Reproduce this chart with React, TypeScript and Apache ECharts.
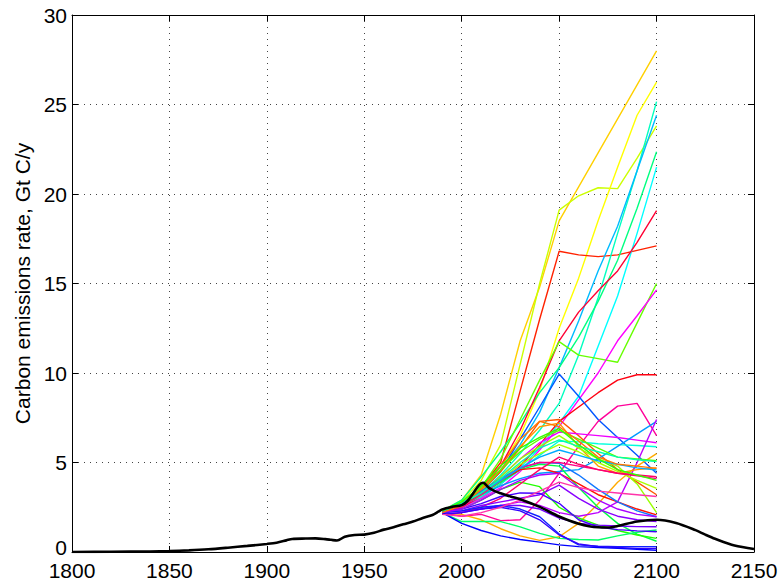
import React, { useEffect, useRef } from "react";
import * as echarts from "echarts";

// ---------- data ----------
const X_TICKS = [1800, 1850, 1900, 1950, 2000, 2050, 2100, 2150];
const Y_TICKS = [0, 5, 10, 15, 20, 25, 30];

const YEARS = [1990, 2000, 2010, 2020, 2030, 2040, 2050, 2060, 2070, 2080, 2090, 2100];

// historical + reference path (black)
const HIST_YEARS = [1800, 1820, 1840, 1850, 1860, 1870, 1880, 1890, 1900, 1905, 1910, 1913, 1920, 1925, 1930, 1933, 1936, 1940, 1945, 1950, 1955, 1960, 1965, 1970, 1975, 1980, 1985, 1988, 1990, 1995, 2000, 2003, 2006, 2008, 2010, 2011, 2012, 2014, 2017, 2020, 2025, 2030, 2040, 2050, 2060, 2070, 2075, 2080, 2090, 2100, 2110, 2120, 2125, 2130, 2140, 2150];
const HIST_VALUES = [0.0, 0.01, 0.03, 0.05, 0.09, 0.15, 0.24, 0.34, 0.45, 0.52, 0.65, 0.73, 0.75, 0.76, 0.72, 0.68, 0.64, 0.85, 0.95, 0.97, 1.07, 1.25, 1.38, 1.55, 1.7, 1.9, 2.07, 2.25, 2.38, 2.52, 2.62, 2.85, 3.3, 3.62, 3.84, 3.87, 3.8, 3.58, 3.4, 3.28, 3.1, 2.95, 2.52, 1.98, 1.58, 1.38, 1.37, 1.45, 1.7, 1.8, 1.62, 1.22, 0.97, 0.74, 0.36, 0.17];

// scenario series (values at YEARS)
const sGold = [2.3, 2.9, 4.3, 7.7, 11.8, 14.8, 18.5, 20.4, 22.3, 24.2, 26.1, 28.0];
const sChartreuse = [2.3, 2.8, 4.0, 6.0, 10.5, 15.0, 19.1, 19.9, 20.35, 20.3, 22.0, 23.8];
const sYellow = [2.3, 2.7, 3.6, 4.8, 6.5, 9.0, 12.5, 15.3, 18.5, 21.5, 24.4, 26.25];
const sRedHigh = [2.2, 2.6, 3.6, 5.0, 9.0, 13.0, 16.8, 16.6, 16.5, 16.6, 16.85, 17.1];
const sTeal = [2.3, 2.6, 3.3, 4.3, 5.5, 6.8, 8.3, 11.0, 14.2, 17.8, 21.3, 25.16];
const sDeepSky = [2.3, 2.7, 3.5, 4.6, 6.0, 7.8, 10.3, 12.9, 15.7, 18.2, 21.3, 24.4];
const sSpring = [2.3, 2.9, 4.2, 5.6, 7.2, 8.9, 10.3, 12.0, 14.0, 16.3, 19.2, 22.36];
const sCyan = [2.3, 2.5, 3.0, 3.8, 4.7, 5.8, 7.2, 8.7, 11.5, 14.3, 17.8, 21.5];
const sCrimson = [2.3, 2.6, 3.4, 4.8, 6.8, 9.2, 11.8, 13.4, 14.6, 15.7, 17.3, 19.07];
const sLime = [2.3, 2.7, 3.6, 5.2, 7.4, 9.6, 11.75, 11.0, 10.8, 10.6, 12.8, 15.0];
const sMagenta = [2.2, 2.5, 3.0, 3.6, 4.5, 5.7, 7.0, 8.5, 10.0, 11.8, 13.2, 14.64];
const sRedMid = [2.2, 2.5, 3.1, 3.8, 4.8, 6.0, 7.3, 8.1, 8.9, 9.6, 9.9, 9.9];
const sBluePeak = [2.3, 2.7, 3.4, 4.5, 6.3, 8.1, 9.94, 8.7, 7.4, 6.4, 5.4, 4.4];
const sDeepPink = [2.2, 2.0, 2.1, 1.75, 1.8, 2.9, 4.4, 5.9, 7.3, 8.15, 8.3, 6.5];
const sOrangeRed = [2.2, 2.6, 3.4, 4.5, 5.8, 7.3, 7.4, 6.5, 5.5, 4.6, 3.9, 3.2];
const sFuchsia = [2.2, 2.6, 3.3, 4.2, 5.2, 6.1, 6.7, 6.6, 6.5, 6.4, 6.25, 6.1];
const sTurquoise = [2.3, 2.6, 3.1, 3.8, 4.6, 5.4, 6.2, 6.15, 6.05, 6.0, 5.95, 5.88];
const sOrangeRise = [2.2, 2.1, 1.8, 1.3, 0.9, 0.65, 0.85, 1.6, 2.7, 3.9, 4.8, 5.5];
const sDodger = [2.3, 2.7, 3.2, 3.7, 4.1, 4.4, 4.5, 4.6, 5.2, 5.9, 6.6, 7.3];
const sViolet = [2.2, 2.3, 2.4, 2.6, 2.8, 2.6, 2.2, 2.0, 2.2, 2.8, 5.0, 7.4];
const sOrange = [2.2, 2.6, 3.4, 4.6, 5.9, 7.0, 7.2, 5.9, 4.8, 4.4, 4.6, 4.7];
const sGreen = [2.3, 2.7, 3.5, 4.6, 5.6, 6.3, 6.8, 6.3, 5.8, 5.3, 5.2, 5.1];
const sChartreuse2 = [2.3, 2.6, 3.3, 4.2, 5.2, 5.9, 6.5, 5.8, 5.2, 4.8, 3.8, 2.2];
const sChartreuse3 = [2.3, 2.6, 3.2, 4.0, 4.9, 5.5, 6.0, 5.6, 5.0, 4.5, 4.0, 3.56];
const sGreenDrop = [2.3, 2.6, 3.2, 3.9, 4.6, 4.9, 4.8, 3.6, 2.5, 1.6, 1.0, 0.6];
const sGreenDrop2 = [2.2, 2.4, 2.9, 3.5, 3.9, 3.65, 2.5, 1.9, 1.5, 1.2, 0.95, 0.76];
const sSpringLow = [2.2, 1.7, 1.7, 1.7, 1.4, 1.04, 0.76, 0.7, 0.67, 0.9, 1.1, 1.23];
const sRedLow = [2.2, 2.6, 3.3, 4.0, 4.6, 4.7, 4.4, 3.8, 3.2, 2.8, 2.4, 2.07];
const sBlue2 = [2.3, 2.7, 3.4, 4.1, 4.7, 5.0, 4.95, 4.3, 3.5, 2.8, 2.3, 1.97];
const sHotPink = [2.2, 2.5, 3.2, 4.0, 4.7, 5.0, 5.0, 4.8, 4.6, 4.4, 4.25, 4.1];
const sRose = [2.1, 2.2, 2.5, 3.0, 3.8, 4.6, 5.3, 4.9, 4.6, 4.4, 4.3, 4.2];
const sViolet2 = [2.2, 2.3, 2.6, 2.8, 3.0, 3.2, 3.74, 3.0, 2.4, 2.0, 1.8, 1.7];
const sViolet3 = [2.1, 2.2, 2.4, 2.6, 2.6, 2.4, 1.9, 1.6, 1.5, 1.45, 1.42, 1.41];
const sBlueViolet = [2.2, 2.4, 2.7, 3.1, 3.3, 3.28, 2.72, 1.8, 1.4, 1.25, 1.18, 1.13];
const sBlue3 = [2.2, 2.3, 2.5, 2.6, 2.4, 1.97, 1.0, 0.4, 0.32, 0.3, 0.3, 0.3];
const sBlue4 = [2.1, 2.2, 2.4, 2.5, 2.3, 1.8, 0.95, 0.45, 0.3, 0.25, 0.2, 0.2];
const sBlueBottom = [2.2, 1.6, 1.2, 0.9, 0.7, 0.55, 0.4, 0.3, 0.25, 0.2, 0.15, 0.1];
const sPurple = [2.2, 2.4, 2.9, 3.5, 4.0, 4.3, 4.4, 3.6, 2.9, 2.4, 2.1, 1.97];
const sDeepSky2 = [2.3, 2.7, 3.3, 4.0, 4.7, 5.3, 5.7, 5.4, 5.1, 4.9, 4.7, 4.58];
const sOrange3 = [2.2, 2.6, 3.5, 4.8, 6.3, 7.3, 7.0, 6.2, 5.3, 4.9, 4.8, 4.67];
const sAqua = [2.3, 2.7, 3.3, 4.1, 5.0, 5.8, 6.26, 5.9, 5.6, 5.3, 5.15, 5.05];
const sPinkLow = [2.1, 2.0, 2.2, 2.5, 2.9, 3.4, 3.9, 3.6, 3.4, 3.3, 3.2, 3.1];
const sGreenMid = [2.3, 2.8, 3.7, 4.8, 5.8, 6.4, 6.9, 6.0, 5.2, 4.6, 4.3, 4.0];

const SCENARIOS = [
  sGold, sChartreuse, sYellow, sRedHigh, sTeal, sDeepSky, sSpring, sCyan, sCrimson, sLime,
  sMagenta, sRedMid, sBluePeak, sDeepPink, sOrangeRed, sFuchsia, sTurquoise, sOrangeRise, sDodger, sViolet,
  sOrange, sGreen, sChartreuse2, sChartreuse3, sGreenDrop, sGreenDrop2, sSpringLow, sRedLow, sBlue2, sHotPink,
  sRose, sViolet2, sViolet3, sBlueViolet, sBlue3, sBlue4, sBlueBottom, sPurple, sDeepSky2, sOrange3, sAqua,
  sPinkLow, sGreenMid,
];

// ---------- styles ----------
const SCEN_COLORS = [
  "#FFD000", "#CCFF00", "#FFFF00", "#FF2200", "#00FFC0", "#00BBFF", "#00FF80", "#00FFFF", "#FF0033", "#66FF00",
  "#FF00FF", "#FF0011", "#0055FF", "#FF0099", "#FF5500", "#EE00FF", "#00FFDD", "#FFAA00", "#0099FF", "#BB00FF",
  "#FF9900", "#55FF00", "#99FF00", "#AAFF00", "#00FF44", "#22FF00", "#00FF66", "#FF1100", "#1177FF", "#FF0088",
  "#FF0066", "#8800FF", "#7700FF", "#4400FF", "#1122FF", "#3300FF", "#0000FF", "#AA00FF", "#00AAFF", "#FF7700", "#00FFAA",
  "#FF33AA", "#33FF00",
];

const FONT = "'Liberation Sans', Arial, Helvetica, sans-serif";

export default function App() {
  const ref = useRef<HTMLDivElement>(null);

  useEffect(() => {
    document.body.style.margin = "0";
    if (!ref.current) return;
    const chart = echarts.init(ref.current, undefined, { renderer: "svg" });

    const scenarioSeries = SCENARIOS.map((vals, i) => ({
      type: "line",
      data: YEARS.map((y, j) => [y, vals[j]]),
      showSymbol: false,
      symbol: "none",
      lineStyle: { color: SCEN_COLORS[i % SCEN_COLORS.length], width: 1.4 },
      z: 2,
      silent: true,
    }));

    const blackSeries = {
      type: "line",
      data: HIST_YEARS.map((y, j) => [y, HIST_VALUES[j]]),
      showSymbol: false,
      symbol: "none",
      smooth: 0.3,
      lineStyle: { color: "#000", width: 2.6 },
      z: 5,
      silent: true,
    };

    const gridLine = { show: true, lineStyle: { color: "#444", type: [1, 5] as any, width: 1 } };
    const tickInside = { show: true, inside: true, length: 6, lineStyle: { color: "#000" } };

    chart.setOption({
      animation: false,
      grid: { left: 72, right: 28, top: 15, bottom: 31, containLabel: false },
      xAxis: [
        {
          type: "value",
          position: "bottom",
          min: X_TICKS[0],
          max: X_TICKS[X_TICKS.length - 1],
          interval: 50,
          axisLine: { show: true, onZero: false, lineStyle: { color: "#000", width: 1 } },
          axisTick: tickInside,
          axisLabel: { fontSize: 21, color: "#000", fontFamily: FONT, margin: 8, formatter: (v: number) => String(v) },
          splitLine: gridLine,
        },
        {
          type: "value",
          position: "top",
          min: X_TICKS[0],
          max: X_TICKS[X_TICKS.length - 1],
          interval: 50,
          axisLine: { show: true, onZero: false, lineStyle: { color: "#000", width: 1 } },
          axisTick: tickInside,
          axisLabel: { show: false },
          splitLine: { show: false },
        },
      ],
      yAxis: [
        {
          type: "value",
          position: "left",
          min: Y_TICKS[0],
          max: Y_TICKS[Y_TICKS.length - 1],
          interval: 5,
          name: "Carbon emissions rate, Gt C/y",
          nameLocation: "middle",
          nameRotate: 90,
          nameGap: 38,
          nameTextStyle: { fontSize: 21, color: "#000", fontFamily: FONT },
          axisLine: { show: true, onZero: false, lineStyle: { color: "#000", width: 1 } },
          axisTick: tickInside,
          axisLabel: {
            fontSize: 21,
            color: "#000",
            fontFamily: FONT,
            margin: 5,
            formatter: (v: number) => (v === 0 ? "{z|0}" : String(v)),
            rich: { z: { fontSize: 21, fontFamily: FONT, color: "#000", padding: [0, 0, 9, 0] } },
          },
          splitLine: gridLine,
        },
        {
          type: "value",
          position: "right",
          min: Y_TICKS[0],
          max: Y_TICKS[Y_TICKS.length - 1],
          interval: 5,
          axisLine: { show: true, onZero: false, lineStyle: { color: "#000", width: 1 } },
          axisTick: tickInside,
          axisLabel: { show: false },
          splitLine: { show: false },
        },
      ],
      series: [...scenarioSeries, blackSeries],
    });

    return () => chart.dispose();
  }, []);

  return <div ref={ref} style={{ width: 782, height: 583 }} />;
}
